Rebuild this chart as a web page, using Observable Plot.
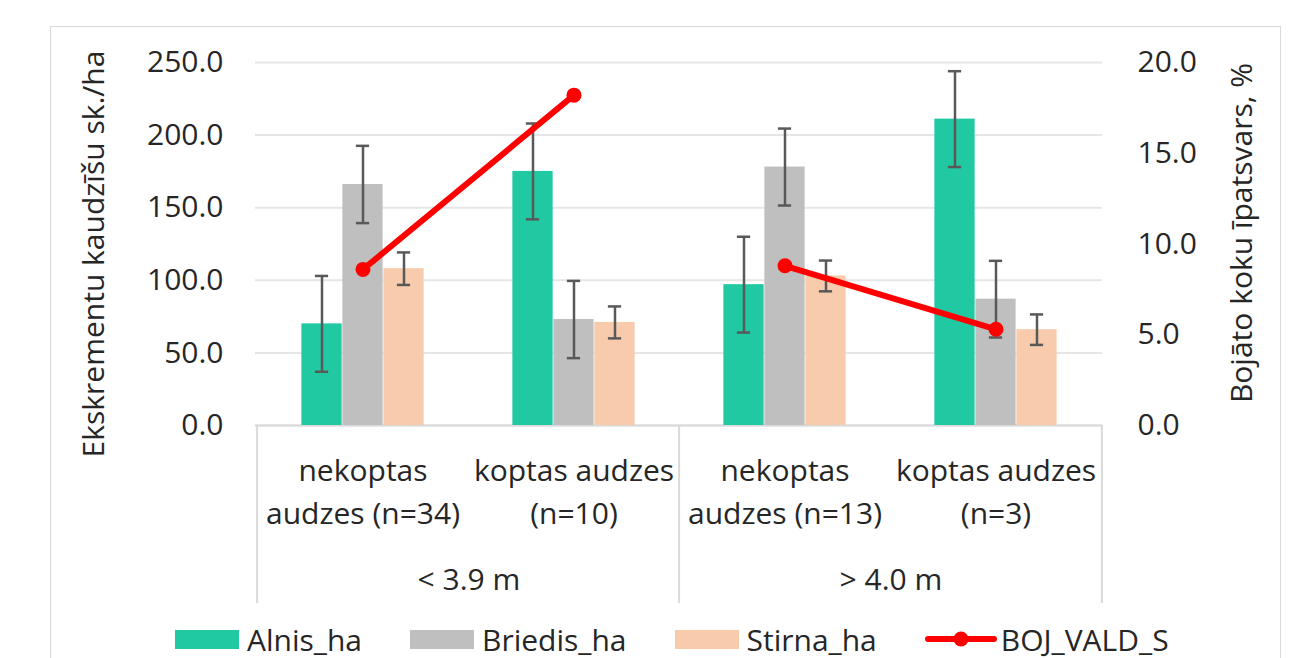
<!DOCTYPE html>
<html><head><meta charset="utf-8">
<script src="https://cdn.jsdelivr.net/npm/d3@7"></script>
<script src="https://cdn.jsdelivr.net/npm/@observablehq/plot@0.6"></script>
<style>
html,body{margin:0;padding:0;overflow:hidden;background:#fff;font-family:"Open Sans",sans-serif;}
#frame{position:absolute;left:50px;top:26px;width:1231px;height:680px;border:1.5px solid #d9d9d9;box-sizing:border-box;}
#chart{position:absolute;left:0;top:0;}
#legend{position:absolute;left:175px;top:621px;height:36px;display:flex;align-items:center;font-size:30px;color:#262626;white-space:nowrap;}
.item{display:flex;align-items:center;margin-right:48px;}
.sw{width:64px;height:19px;margin-right:8px;}
</style>
</head><body>
<div id="frame"></div>
<div id="chart"></div>
<div id="legend"></div>
<script>
// ---- data ----
const categories = ["nekoptas\naudzes (n=34)", "koptas audzes\n(n=10)", "nekoptas\naudzes (n=13)", "koptas audzes\n(n=3)"];
const groups = ["< 3.9 m", "< 3.9 m", "> 4.0 m", "> 4.0 m"];
const groupLabels = ["< 3.9 m", "> 4.0 m"];
const seriesNames = ["Alnis_ha", "Briedis_ha", "Stirna_ha", "BOJ_VALD_S"];
const alnis = [70, 175, 97, 211];
const alnisErr = [33, 33, 33, 33];
const briedis = [166, 73, 178, 87];
const briedisErr = [26.6, 26.6, 26.5, 26.4];
const stirna = [108, 71, 103, 66];
const stirnaErr = [11.2, 11, 10.6, 10.5];
const boj = [8.6, 18.2, 8.8, 5.3];
const leftTicks = [0, 50, 100, 150, 200, 250];
const rightTicks = [0, 5, 10, 15, 20];

// ---- layout / style ----
const W = 1303, H = 612, mL = 255, mR = 201, mT = 62, mB = 187;
const leftMax = 250, rightMax = 20, k = leftMax / rightMax;
const bw = (W - mL - mR) / categories.length;
const barW = 41, capW = 14;
const colors = ["#21C9A2", "#BFBFBF", "#F8CBAD", "#FF0000"];
const txt = "#262626", errC = "#595959", lineC = "#D9D9D9";
const fs = 30;

const series = [
  {values: alnis, err: alnisErr, color: colors[0], dx: -barW},
  {values: briedis, err: briedisErr, color: colors[1], dx: 0},
  {values: stirna, err: stirnaErr, color: colors[2], dx: barW}
];
const rowsOf = s => categories.map((c, i) => ({cat: c, v: s.values[i], e: s.err[i]}));
const bojRows = categories.map((c, i) => ({cat: c, v: boj[i], group: groups[i]}));
const groupRows = groupLabels.map(g => ({label: g, cat: categories[groups.indexOf(g)]}));

const marks = [
  Plot.gridY(leftTicks, {stroke: "#E6E6E6", strokeOpacity: 1, strokeWidth: 2}),
  Plot.ruleY([0], {stroke: lineC, strokeWidth: 2}),
  Plot.ruleX([categories[0], categories[2]], {dx: -bw / 2, insetTop: H - mT - mB, insetBottom: -178, stroke: lineC, strokeWidth: 2}),
  Plot.ruleX([categories[3]], {dx: bw / 2, insetTop: H - mT - mB, insetBottom: -178, stroke: lineC, strokeWidth: 2}),
  Plot.axisY({anchor: "left", ticks: leftTicks, tickFormat: d3.format(".1f"), tickSize: 0, tickPadding: 32, fontSize: fs, fill: txt, label: null}),
  Plot.axisY({anchor: "right", ticks: rightTicks.map(t => t * k), tickFormat: d => (d / k).toFixed(1), tickSize: 0, tickPadding: 35, fontSize: fs, fill: txt, label: null}),
  Plot.axisX({tickSize: 0, tickPadding: 25, lineHeight: 1.43, fontSize: fs, fill: txt, label: null}),
  Plot.text(groupRows, {x: "cat", text: "label", frameAnchor: "bottom", dx: bw / 2, dy: 164, fontSize: fs, fill: txt}),
  Plot.text(["Ekskrementu kaudzīšu sk./ha"], {frameAnchor: "left", rotate: -90, textAnchor: "middle", dx: -161, dy: 10, fontSize: fs, fill: txt}),
  Plot.text(["Bojāto koku īpatsvars, %"], {frameAnchor: "right", rotate: -90, textAnchor: "middle", dx: 140, dy: -11, fontSize: fs, fill: txt})
];
for (const s of series) {
  const rows = rowsOf(s);
  marks.push(Plot.barY(rows, {x: "cat", y: "v", fill: s.color, dx: s.dx, insetLeft: (bw - barW) / 2, insetRight: (bw - barW) / 2}));
}
for (const s of series) {
  const rows = rowsOf(s);
  marks.push(Plot.ruleX(rows, {x: "cat", y1: d => d.v - d.e, y2: d => d.v + d.e, dx: s.dx, stroke: errC, strokeWidth: 2.5}));
  marks.push(Plot.tickY(rows, {x: "cat", y: d => d.v + d.e, dx: s.dx, insetLeft: (bw - capW) / 2, insetRight: (bw - capW) / 2, stroke: errC, strokeWidth: 2.5}));
  marks.push(Plot.tickY(rows, {x: "cat", y: d => d.v - d.e, dx: s.dx, insetLeft: (bw - capW) / 2, insetRight: (bw - capW) / 2, stroke: errC, strokeWidth: 2.5}));
}
marks.push(Plot.lineY(bojRows, {x: "cat", y: d => d.v * k, z: "group", stroke: colors[3], strokeWidth: 6, strokeLinecap: "round"}));
marks.push(Plot.dot(bojRows, {x: "cat", y: d => d.v * k, r: 7.5, fill: colors[3], stroke: "none"}));

const chart = Plot.plot({
  width: W, height: H,
  marginLeft: mL, marginRight: mR, marginTop: mT, marginBottom: mB,
  style: {fontFamily: "'Open Sans', sans-serif", fontSize: fs + "px", background: "transparent", overflow: "visible"},
  x: {type: "band", domain: categories, padding: 0},
  y: {domain: [0, leftMax]},
  marks
});
document.getElementById("chart").appendChild(chart);

// ---- legend ----
const legend = document.getElementById("legend");
seriesNames.forEach((name, i) => {
  const it = document.createElement("div");
  it.className = "item";
  if (i < 3) {
    const sw = document.createElement("div");
    sw.className = "sw";
    sw.style.background = colors[i];
    it.appendChild(sw);
  } else {
    const ns = "http://www.w3.org/2000/svg";
    const svg = document.createElementNS(ns, "svg");
    svg.setAttribute("width", 72); svg.setAttribute("height", 20);
    svg.style.marginRight = "4px";
    const ln = document.createElementNS(ns, "line");
    ln.setAttribute("x1", 3); ln.setAttribute("x2", 69); ln.setAttribute("y1", 10); ln.setAttribute("y2", 10);
    ln.setAttribute("stroke", colors[3]); ln.setAttribute("stroke-width", 6); ln.setAttribute("stroke-linecap", "round");
    const c = document.createElementNS(ns, "circle");
    c.setAttribute("cx", 36); c.setAttribute("cy", 10); c.setAttribute("r", 7.5); c.setAttribute("fill", colors[3]);
    svg.appendChild(ln); svg.appendChild(c);
    it.appendChild(svg);
  }
  const t = document.createElement("span");
  t.textContent = name;
  it.appendChild(t);
  legend.appendChild(it);
});
</script>
</body></html>
